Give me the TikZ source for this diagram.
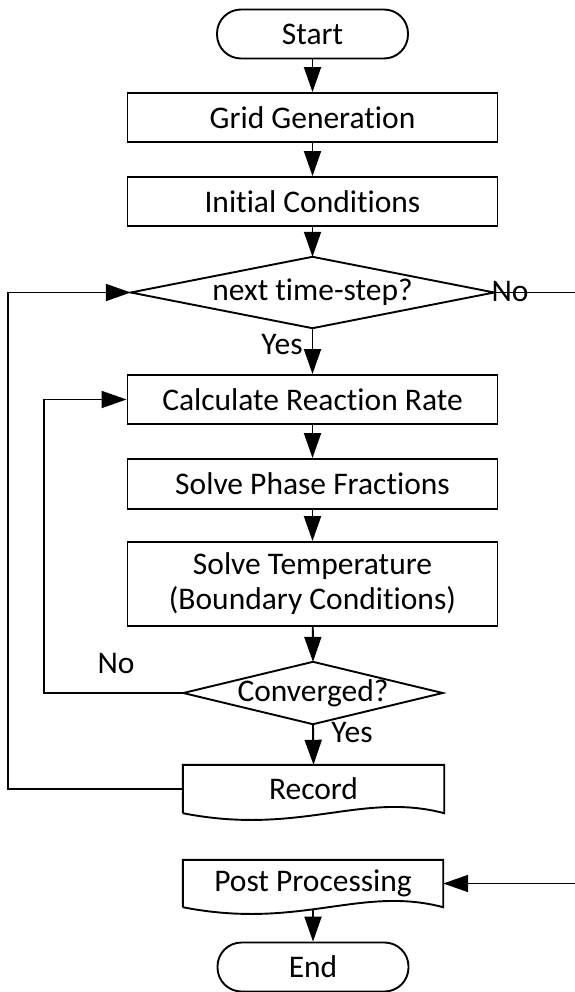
\documentclass[tikz,border=0pt]{standalone}
\usepackage{fontspec}
\setmainfont{Carlito}[Ligatures=NoCommon]
\usetikzlibrary{arrows.meta,calc}
\begin{document}
\begin{tikzpicture}[x=1pt,y=-1pt,
  every node/.style={font=\fontsize{31.5}{35}\selectfont, inner sep=0pt},
  procbox/.style={draw, line width=1.9pt, minimum width=370pt, minimum height=49pt},
  termbox/.style={draw, line width=1.9pt, rounded corners=24pt, minimum width=191pt, minimum height=49pt},
  arr/.style={line width=1.9pt, -{Triangle[length=25pt,width=17pt]}},
  outline/.style={line width=1.9pt}
]
\useasboundingbox (0,0) rectangle (574,992);

\node[termbox] (start) at (312.5,34) {Start};
\node[procbox] (grid) at (312.5,117.5) {Grid Generation};
\node[procbox] (init) at (312.5,201.5) {Initial Conditions};
\node[minimum width=363pt, minimum height=71pt] (d1) at (312.5,292.5) {next time-step?};
\node[procbox] (calc) at (312.5,399.5) {Calculate Reaction Rate};
\node[procbox, minimum height=50pt] (phase) at (312.5,484) {Solve Phase Fractions};
\node[procbox, minimum height=84pt, align=center] (temp) at (312.5,584) {Solve Temperature\\(Boundary Conditions)};
\node[minimum width=259pt, minimum height=62pt] (d2) at (313,693) {Converged?};
\node[minimum width=261pt, minimum height=48pt] (rec) at (313.5,789) {Record};
\node[minimum width=260pt, minimum height=47pt] (post) at (313,883.5) {Post Processing};
\node[termbox] (end) at (313,967) {End};

% diamond outlines
\draw[outline] (d1.west) -- (d1.north) -- (d1.east) -- (d1.south) -- cycle;
\draw[outline] (d2.west) -- (d2.north) -- (d2.east) -- (d2.south) -- cycle;
% document outlines
\draw[outline] (rec.south west) -- (rec.north west) -- (rec.north east) -- (rec.south east)
  .. controls ($(rec.south east)+(-83,-22)$) and ($(rec.south west)+(117,23)$) .. (rec.south west);
\draw[outline] (post.south west) -- (post.north west) -- (post.north east) -- (post.south east)
  .. controls ($(post.south east)+(-83,-22)$) and ($(post.south west)+(117,23)$) .. (post.south west);

% helper coordinates
\coordinate (xin) at (44,550);
\coordinate (xout) at (8,550);
\coordinate (xr) at (576,600);

% connectors
\draw[arr] (start) -- (grid);
\draw[arr] (grid) -- (init);
\draw[arr] (init) -- (d1.north);
\draw[arr] (d1.south) -- (calc);
\draw[arr] (calc) -- (phase);
\draw[arr] (phase) -- (temp);
\draw[arr] (temp) -- (d2.north);
\draw[arr] (d2.south) -- (rec.north);
\draw[arr] (d2.west) -| (xin) |- (calc.west);
\draw[arr] (rec.west) -| (xout) |- (d1.west);
\draw[arr] (d1.east) -| (xr) |- (post.east);
\draw[arr] ($(post.south)+(0,3)$) -- (end);

% labels
\node (yes1) at (282,345) {Yes};
\node (no1) at (510,292) {No};
\node (no2) at (116,663) {No};
\node (yes2) at (352,733) {Yes};
\end{tikzpicture}
\end{document}
